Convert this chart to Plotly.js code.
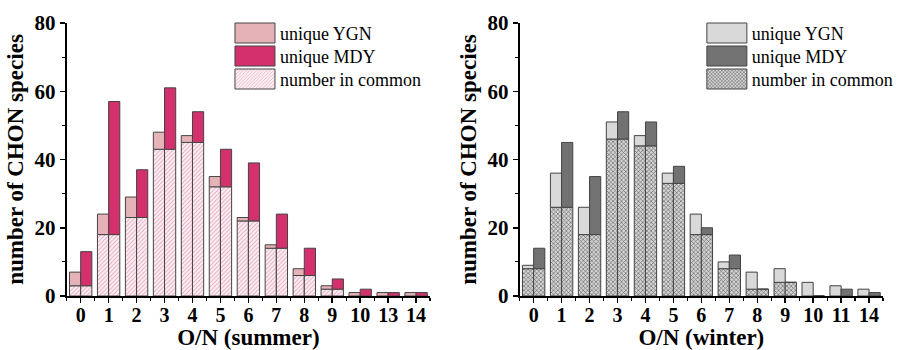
<!DOCTYPE html>
<html>
<head>
<meta charset="utf-8">
<script src="https://cdn.plot.ly/plotly-3.0.1.min.js"></script>
<style>html,body{margin:0;padding:0;background:#fff;}#chart{width:898px;height:350px;}</style>
</head>
<body>
<div id="chart"></div>
<script>
// ---- Summer data ----
const catsSummer = ['0','1','2','3','4','5','6','7','8','9','10','13','14'];
const commonSummer = [3, 18, 23, 43, 45, 32, 22, 14, 6, 2, 0, 0, 0];
const uniqueYGNSummer = [4, 6, 6, 5, 2, 3, 1, 1, 2, 1, 1, 1, 1];
const uniqueMDYSummer = [10, 39, 14, 18, 9, 11, 17, 10, 8, 3, 2, 1, 1];

// ---- Winter data ----
const catsWinter = ['0','1','2','3','4','5','6','7','8','9','10','11','14'];
const commonWinter = [8, 26, 18, 46, 44, 33, 18, 8, 2, 4, 0, 0, 0];
const uniqueYGNWinter = [1, 10, 8, 5, 3, 3, 6, 2, 5, 4, 4, 3, 2];
const uniqueMDYWinter = [6, 19, 17, 8, 7, 5, 2, 4, 0, 0, 0, 2, 1];

const FONT = 'Liberation Serif, Times New Roman, serif';
const OUTLINE = {color: '#444', width: 1};

function panel(cats, common, uY, uM, colors, xa, ya, leg) {
  const idx = cats.map((c, i) => i);
  const pat = colors.pattern;
  const common1 = {
    type: 'bar', x: idx, y: common, offset: -0.4, width: 0.4,
    xaxis: xa, yaxis: ya, legend: leg, name: 'number in common', legendrank: 3,
    marker: {color: pat.bgcolor, line: OUTLINE, pattern: pat}, hoverinfo: 'skip'
  };
  const common2 = Object.assign({}, common1, {offset: 0, showlegend: false});
  const ygn = {
    type: 'bar', x: idx, y: uY, base: common, offset: -0.4, width: 0.4,
    xaxis: xa, yaxis: ya, legend: leg, name: 'unique YGN', legendrank: 1,
    marker: {color: colors.ygn, line: OUTLINE}, hoverinfo: 'skip'
  };
  const mdy = {
    type: 'bar', x: idx, y: uM, base: common, offset: 0, width: 0.4,
    xaxis: xa, yaxis: ya, legend: leg, name: 'unique MDY', legendrank: 2,
    marker: {color: colors.mdy, line: OUTLINE}, hoverinfo: 'skip'
  };
  return [common1, common2, ygn, mdy];
}

const summerColors = {
  ygn: '#e5b3b7', mdy: '#d3306d',
  pattern: {shape: '/', fgcolor: '#e4a6be', bgcolor: '#fcf0f4', size: 3, solidity: 0.3, fillmode: 'replace'}
};
const winterColors = {
  ygn: '#d9d9d9', mdy: '#727272',
  pattern: {shape: 'x', fgcolor: '#5a5a5a', bgcolor: '#d4d4d4', size: 3, solidity: 0.35, fillmode: 'replace'}
};

const data = [].concat(
  panel(catsSummer, commonSummer, uniqueYGNSummer, uniqueMDYSummer, summerColors, 'x', 'y', 'legend'),
  panel(catsWinter, commonWinter, uniqueYGNWinter, uniqueMDYWinter, winterColors, 'x2', 'y2', 'legend2')
);

function xaxis(cats, dom, title) {
  return {
    domain: dom, type: 'linear', range: [-0.5, cats.length - 0.5],
    tickmode: 'array', tickvals: cats.map((c, i) => i), ticktext: cats,
    ticks: 'outside', ticklen: 5, tickwidth: 1.5, tickcolor: '#000',
    ticklabelstandoff: -5,
    minor: {tickmode: 'linear', tick0: -0.5, dtick: 1, ticks: 'outside', ticklen: 3, tickwidth: 1.2, tickcolor: '#000', showgrid: false},
    showline: true, linewidth: 2, linecolor: '#000', showgrid: false, zeroline: false,
    tickfont: {family: FONT, size: 20, weight: 'bold', color: '#000'},
    title: {text: title, font: {family: FONT, size: 23, weight: 'bold', color: '#000'}, standoff: 8},
    fixedrange: true
  };
}
function yaxis(anchor) {
  return {
    anchor: anchor, domain: [0, 1], range: [0, 80], tickmode: 'linear', tick0: 0, dtick: 20,
    ticks: 'outside', ticklen: 5, tickwidth: 1.5, tickcolor: '#000',
    minor: {tickmode: 'linear', tick0: 0, dtick: 10, ticks: 'outside', ticklen: 3, tickwidth: 1.2, tickcolor: '#000', showgrid: false},
    showline: true, linewidth: 2, linecolor: '#000', showgrid: false, zeroline: false,
    tickfont: {family: FONT, size: 21, weight: 'bold', color: '#000'},
    title: {text: 'number of CHON species', font: {family: FONT, size: 23, weight: 'bold', color: '#000'}, standoff: 4},
    fixedrange: true
  };
}

const legendBase = {
  y: 1.03, yanchor: 'top', xanchor: 'left', bgcolor: 'rgba(0,0,0,0)', borderwidth: 0,
  font: {family: FONT, size: 18, color: '#000'}, itemwidth: 40, tracegroupgap: 0,
  traceorder: 'normal', itemclick: false, itemdoubleclick: false
};

const layout = {
  width: 898, height: 350,
  margin: {l: 0, r: 0, t: 23, b: 54},
  paper_bgcolor: '#fff', plot_bgcolor: '#fff',
  barmode: 'overlay', showlegend: true,
  xaxis: Object.assign(xaxis(catsSummer, [67/898, 432/898], 'O/N (summer)'), {anchor: 'y'}),
  yaxis: yaxis('x'),
  xaxis2: Object.assign(xaxis(catsWinter, [522/898, 887/898], 'O/N (winter)'), {anchor: 'y2'}),
  yaxis2: yaxis('x2'),
  legend: Object.assign({}, legendBase, {x: 231/898}),
  legend2: Object.assign({}, legendBase, {x: 705/898})
};

function tweakLegends() {
  // wide legend swatches and tighter rows, as in the reference
  document.querySelectorAll('g.legendpoints path').forEach(function (p) {
    p.setAttribute('d', 'M20,10H-20V-10H20Z');
  });
  document.querySelectorAll('g.legend, g.legend2').forEach(function (lg) {
    const items = lg.querySelectorAll('g.traces');
    let y0 = null;
    items.forEach(function (it, i) {
      const tr = it.getAttribute('transform') || '';
      const m = tr.match(/translate\(\s*([-\d.]+)[ ,]+([-\d.]+)\s*\)/);
      if (!m) return;
      const x = parseFloat(m[1]);
      const y = parseFloat(m[2]);
      if (y0 === null) y0 = y;
      it.setAttribute('transform', 'translate(' + x + ',' + (y0 + i * 23) + ')');
    });
  });
}

Plotly.newPlot('chart', data, layout, {displayModeBar: false, staticPlot: true}).then(function () {
  tweakLegends();
  setTimeout(tweakLegends, 50);
});
</script>
</body>
</html>
